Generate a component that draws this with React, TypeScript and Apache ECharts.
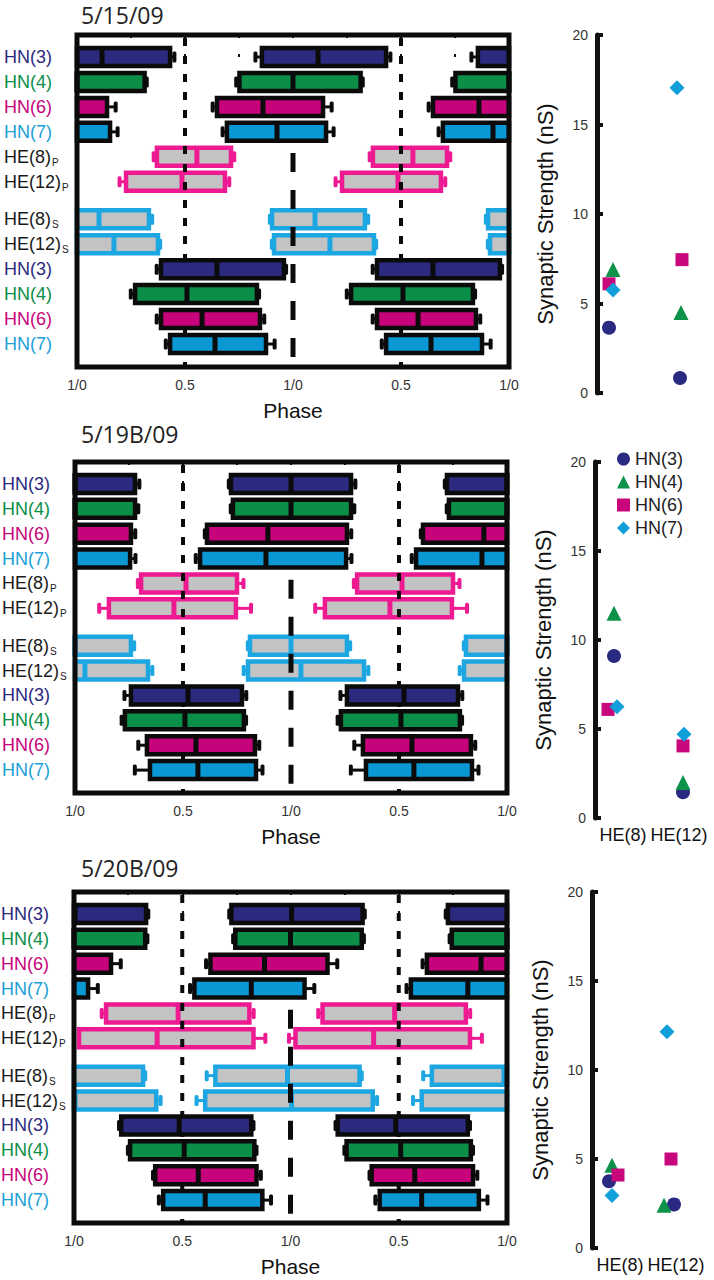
import React, { useEffect, useRef } from "react";
import * as echarts from "echarts";

const FONT = "'Liberation Sans', Arial, sans-serif";
const TITLE_FONT = "'Open Sans', 'Noto Sans', sans-serif";

// ---------- phase diagram rows ----------
const rowNames = ["HN(3)", "HN(4)", "HN(6)", "HN(7)", "HE(8)", "HE(12)", "HE(8)", "HE(12)", "HN(3)", "HN(4)", "HN(6)", "HN(7)"];
const rowSubs = ["", "", "", "", "P", "P", "S", "S", "", "", "", ""];
const rowKinds = ["HN3", "HN4", "HN6", "HN7", "HEP", "HEP", "HES", "HES", "HN3", "HN4", "HN6", "HN7"];
const rowPositions = [0, 1, 2, 3, 4, 5, 6.5, 7.5, 8.5, 9.5, 10.5, 11.5];
const heRows = [4, 5, 6, 7];
const hnRows = [0, 1, 2, 3, 8, 9, 10, 11];

const panelTitles = ["5/15/09", "5/19B/09", "5/20B/09"];

// phase values (start / end / median marker / start SD / end SD)
const p1Start = [0.856, 0.752, 0.648, 0.694, 0.370, 0.227, 0.903, 0.912, 0.389, 0.269, 0.389, 0.431];
const p1End = [1.431, 1.313, 1.139, 1.153, 0.713, 0.685, 1.333, 1.375, 0.958, 0.833, 0.847, 0.875];
const p1Mid = [1.116, 1.0, 0.861, 0.926, 0.555, 0.486, 1.102, 1.171, 0.648, 0.509, 0.579, 0.639];
const p1SdStart = [0.03, 0.015, 0.02, 0.02, 0.015, 0.03, 0.01, 0.01, 0.02, 0.02, 0.02, 0.02];
const p1SdEnd = [0.02, 0.01, 0.04, 0.035, 0.015, 0.02, 0.015, 0.01, 0.01, 0.01, 0.02, 0.04];

const p2Start = [0.722, 0.731, 0.611, 0.579, 0.306, 0.157, 0.810, 0.801, 0.259, 0.231, 0.333, 0.347];
const p2End = [1.278, 1.278, 1.259, 1.255, 0.750, 0.745, 1.259, 1.338, 0.773, 0.782, 0.833, 0.838];
const p2Mid = [1.0, 1.0, 0.893, 0.884, 0.514, 0.458, 1.0, 1.046, 0.523, 0.509, 0.560, 0.569];
const p2SdStart = [0.01, 0.01, 0.01, 0.02, 0.015, 0.045, 0.01, 0.02, 0.03, 0.015, 0.04, 0.07];
const p2SdEnd = [0.02, 0.015, 0.02, 0.025, 0.03, 0.07, 0.015, 0.02, 0.02, 0.01, 0.02, 0.03];

const p3Start = [0.727, 0.745, 0.630, 0.556, 0.148, 0.023, 0.653, 0.606, 0.218, 0.259, 0.375, 0.412];
const p3End = [1.333, 1.329, 1.171, 1.065, 0.810, 0.829, 1.319, 1.380, 0.819, 0.833, 0.843, 0.870];
const p3Mid = [1.005, 1.0, 0.880, 0.819, 0.481, 0.384, 0.986, 1.005, 0.486, 0.509, 0.574, 0.606];
const p3SdStart = [0.01, 0.01, 0.02, 0.02, 0.02, 0.03, 0.04, 0.04, 0.01, 0.01, 0.01, 0.02];
const p3SdEnd = [0.01, 0.01, 0.045, 0.045, 0.02, 0.055, 0.01, 0.02, 0.01, 0.01, 0.02, 0.04];

const phaseTickValues = [0, 0.5, 1, 1.5, 2];
const phaseTickTexts = ["1/0", "0.5", "1/0", "0.5", "1/0"];
const guidePhases = [0.5, 1.0, 1.5];
const guideKinds = ["short", "long", "short"];
const PHASE_Y_MIN = -0.88;
const PHASE_Y_MAX = 12.42;
const guideStarts = [PHASE_Y_MIN, 3.85, PHASE_Y_MIN];

// ---------- synaptic strength ----------
const synapseTargets = ["HE(8)", "HE(12)"];
const hnNames = ["HN(3)", "HN(4)", "HN(6)", "HN(7)"];
const strength1 = [[3.65, 0.84], [6.9, 4.5], [6.1, 7.45], [5.75, 17.05]];
const strength2 = [[9.1, 1.45], [11.5, 2.0], [6.1, 4.05], [6.25, 4.7]];
const strength3 = [[3.75, 2.45], [4.65, 2.4], [4.1, 5.0], [2.95, 12.15]];
const strengthTicks = [0, 5, 10, 15, 20];

// ---------- styles (not data) ----------
const kindStyle: Record<string, { fill: string; stroke: string; label: string }> = {
  HN3: { fill: "#2b2a7e", stroke: "#0b0b0b", label: "#2b2a7e" },
  HN4: { fill: "#0a8e48", stroke: "#0b0b0b", label: "#0a8e48" },
  HN6: { fill: "#c6037b", stroke: "#0b0b0b", label: "#c6037b" },
  HN7: { fill: "#0a98d4", stroke: "#0b0b0b", label: "#1a9fd8" },
  HEP: { fill: "#c3c3c3", stroke: "#ee1a92", label: "#1a1a1a" },
  HES: { fill: "#c3c3c3", stroke: "#1ca7e2", label: "#1a1a1a" },
};
const hnSymbols = ["circle", "triangle", "rect", "diamond"];
const hnSymbolSizes = [14, 15, 13, 15];
const hnColors = ["#2a2a82", "#0c9249", "#c8077d", "#109fd9"];
// horizontal jitter of markers (px) per panel, per HN, per target
const jitter = [
  [[-16, -1], [-12, 0], [-16, 1], [-12, -4]],
  [[-9, 4], [-9, 4], [-15, 4], [-6, 5]],
  [[-11, -2], [-8, -12], [-2, -5], [-8, -9]],
];

const phaseGrids = [
  { left: 77, top: 35, width: 432, height: 332 },
  { left: 75, top: 462, width: 432, height: 331 },
  { left: 74, top: 892, width: 433, height: 331 },
];
const scatterGrids = [
  { left: 597, top: 35, width: 112, height: 358 },
  { left: 595, top: 462, width: 112, height: 356 },
  { left: 592, top: 892, width: 112, height: 356 },
];
const titleTops = [3, 422, 856];
const titleLefts = [81, 81, 81];

const panels = [
  { start: p1Start, end: p1End, mid: p1Mid, sdS: p1SdStart, sdE: p1SdEnd, strength: strength1 },
  { start: p2Start, end: p2End, mid: p2Mid, sdS: p2SdStart, sdE: p2SdEnd, strength: strength2 },
  { start: p3Start, end: p3End, mid: p3Mid, sdS: p3SdStart, sdE: p3SdEnd, strength: strength3 },
];

function makeBarRender(p: number) {
  const d = panels[p];
  return (params: any, api: any) => {
    const i = api.value(0);
    const cs = params.coordSys;
    const gx = cs.x;
    const gr = cs.x + cs.width;
    const pos = rowPositions[i];
    const st = kindStyle[rowKinds[i]];
    const cy = api.coord([0, pos])[1];
    const children: any[] = [];
    for (const off of [-1, 0, 1]) {
      const x1 = api.coord([d.start[i] + off, pos])[0];
      const x2 = api.coord([d.end[i] + off, pos])[0];
      const xm = api.coord([d.mid[i] + off, pos])[0];
      const w1 = api.coord([d.start[i] + off - d.sdS[i], pos])[0];
      const w2 = api.coord([d.end[i] + off + d.sdE[i], pos])[0];
      if (w2 < gx || w1 > gr) continue;
      if (w1 >= gx && w1 <= gr - 2) {
        children.push({ type: "line", shape: { x1: w1, y1: cy, x2: Math.min(x1, gr), y2: cy }, style: { stroke: st.stroke, lineWidth: 3 } });
        children.push({ type: "rect", shape: { x: w1 - 2, y: cy - 5.5, width: 4, height: 11, r: 1.5 }, style: { fill: st.stroke } });
      }
      if (w2 <= gr && w2 >= gx + 2) {
        children.push({ type: "line", shape: { x1: Math.max(x2, gx), y1: cy, x2: w2, y2: cy }, style: { stroke: st.stroke, lineWidth: 3 } });
        children.push({ type: "rect", shape: { x: w2 - 2, y: cy - 5.5, width: 4, height: 11, r: 1.5 }, style: { fill: st.stroke } });
      }
      const rx1 = Math.max(x1, gx);
      const rx2 = Math.min(x2, gr);
      if (rx2 > rx1) {
        children.push({
          type: "rect",
          shape: { x: rx1, y: cy - 9, width: rx2 - rx1, height: 18 },
          style: { fill: st.fill, stroke: st.stroke, lineWidth: 4.5 },
        });
      }
      if (xm >= gx && xm <= gr) {
        children.push({ type: "rect", shape: { x: xm - 2.5, y: cy - 10.5, width: 5, height: 21 }, style: { fill: st.stroke } });
      }
    }
    return { type: "group", children };
  };
}

function guideRender(params: any, api: any) {
  const cs = params.coordSys;
  const kind = guideKinds[params.dataIndex];
  const [x, y0] = api.coord([api.value(0), api.value(1)]);
  return {
    type: "line",
    shape: { x1: x, y1: Math.max(y0, cs.y + 3), x2: x, y2: cs.y + cs.height },
    style: { stroke: "#0b0b0b", lineWidth: kind === "long" ? 5 : 4, lineDash: kind === "long" ? [19, 18] : [8, 10] },
  };
}

function frameRender(params: any) {
  const cs = params.coordSys;
  return {
    type: "rect",
    shape: { x: cs.x, y: cs.y, width: cs.width, height: cs.height },
    style: { fill: "none", stroke: "#0b0b0b", lineWidth: 5 },
  };
}

function labelRender(params: any, api: any) {
  const i = params.dataIndex;
  const cs = params.coordSys;
  const y = api.coord([0, rowPositions[i]])[1];
  const color = kindStyle[rowKinds[i]].label;
  const sub = rowSubs[i];
  const text = sub ? `{m|${rowNames[i]}}{s|${sub}}` : `{m|${rowNames[i]}}`;
  return {
    type: "text",
    x: cs.x - 73,
    y,
    style: {
      text,
      align: "left",
      verticalAlign: "middle",
      rich: {
        m: { fontSize: 18, fontFamily: FONT, fill: color },
        s: { fontSize: 10, fontFamily: FONT, fill: color, padding: [11, 0, 0, 1] },
      },
    },
  };
}

function buildOption() {
  const grid: any[] = [...phaseGrids, ...scatterGrids];
  const xAxis: any[] = [];
  const yAxis: any[] = [];
  const series: any[] = [];

  for (let p = 0; p < 3; p++) {
    xAxis.push({
      type: "value",
      gridIndex: p,
      min: 0,
      max: 2,
      interval: 0.25,
      position: "bottom",
      axisLine: { show: false },
      splitLine: { show: false },
      axisTick: { show: true, inside: true, length: 3, lineStyle: { color: "#111", width: 2 } },
      axisLabel: {
        show: true,
        margin: 11,
        fontSize: 14,
        color: "#333",
        fontFamily: FONT,
        showMinLabel: true,
        showMaxLabel: true,
        formatter: (v: number) => {
          const k = phaseTickValues.findIndex((t) => Math.abs(t - v) < 1e-6);
          return k >= 0 ? phaseTickTexts[k] : "";
        },
      },
      name: "Phase",
      nameLocation: "middle",
      nameGap: 33,
      nameTextStyle: { fontSize: 21, color: "#111", fontFamily: FONT },
    });
    yAxis.push({ type: "value", gridIndex: p, min: PHASE_Y_MIN, max: PHASE_Y_MAX, inverse: true, show: false });
  }
  for (let p = 0; p < 3; p++) {
    xAxis.push({
      type: "value",
      gridIndex: 3 + p,
      min: -0.5,
      max: 1.5,
      interval: 0.5,
      axisLine: { show: false, onZero: false },
      axisTick: { show: false },
      splitLine: { show: false },
      axisLabel: {
        show: p > 0,
        margin: 8,
        fontSize: 18,
        color: "#111",
        fontFamily: FONT,
        formatter: (v: number) => {
          const k = Math.round(v);
          return Math.abs(v - k) < 1e-6 && k >= 0 && k < synapseTargets.length ? synapseTargets[k] : "";
        },
      },
    });
    yAxis.push({
      type: "value",
      gridIndex: 3 + p,
      min: strengthTicks[0],
      max: strengthTicks[strengthTicks.length - 1],
      interval: strengthTicks[1] - strengthTicks[0],
      axisLine: { show: true, onZero: false, lineStyle: { color: "#111", width: 5 } },
      axisTick: { show: true, inside: true, length: 6, lineStyle: { color: "#111", width: 4 } },
      axisLabel: { fontSize: 14, color: "#333", margin: 9, fontFamily: FONT },
      splitLine: { show: false },
      name: "Synaptic Strength (nS)",
      nameLocation: "middle",
      nameGap: 41,
      nameTextStyle: { fontSize: 22, color: "#111", fontFamily: FONT },
    });
  }
  for (let p = 0; p < 3; p++) {
    xAxis.push({
      type: "value",
      gridIndex: p,
      min: 0,
      max: 2,
      interval: 0.25,
      position: "top",
      axisLine: { show: false },
      splitLine: { show: false },
      axisTick: { show: true, inside: true, length: 3, lineStyle: { color: "#111", width: 2 } },
      axisLabel: { show: false },
    });
  }

  for (let p = 0; p < 3; p++) {
    const common = { type: "custom", xAxisIndex: p, yAxisIndex: p, silent: true };
    series.push({ ...common, name: `heBars${p}`, z: 2, data: heRows.map((r) => [r]), renderItem: makeBarRender(p) });
    series.push({
      ...common,
      name: `guides${p}`,
      z: 3,
      data: guidePhases.map((ph, k) => [ph, guideStarts[k]]),
      renderItem: guideRender,
    });
    series.push({ ...common, name: `hnBars${p}`, z: 4, data: hnRows.map((r) => [r]), renderItem: makeBarRender(p) });
    series.push({ ...common, name: `frame${p}`, z: 5, data: [[0]], renderItem: frameRender });
    series.push({ ...common, name: `labels${p}`, z: 5, data: rowNames.map((_, i) => [i]), renderItem: labelRender });

    const s = panels[p].strength;
    hnNames.forEach((nm, h) => {
      series.push({
        type: "scatter",
        name: nm,
        xAxisIndex: 3 + p,
        yAxisIndex: 3 + p,
        symbol: hnSymbols[h],
        symbolSize: hnSymbolSizes[h],
        itemStyle: { color: hnColors[h], opacity: 1 },
        z: 3,
        silent: true,
        data: s[h].map((v, t) => ({ value: [t, v], symbolOffset: [jitter[p][h][t], 0] })),
      });
    });
  }

  return {
    animation: false,
    backgroundColor: "#ffffff",
    textStyle: { fontFamily: FONT },
    title: panelTitles.map((t, p) => ({
      text: t,
      left: titleLefts[p],
      top: titleTops[p],
      padding: 0,
      textStyle: { fontSize: 23, fontWeight: "normal", color: "#222", fontFamily: TITLE_FONT },
    })),
    legend: {
      show: true,
      orient: "vertical",
      left: 617,
      top: 450,
      padding: 0,
      itemWidth: 13,
      itemHeight: 13,
      itemGap: 5,
      selectedMode: false,
      data: hnNames,
      textStyle: { fontSize: 18, color: "#222", fontFamily: FONT },
    },
    grid,
    xAxis,
    yAxis,
    series,
  };
}

export default function App() {
  const ref = useRef<HTMLDivElement>(null);
  useEffect(() => {
    const chart = echarts.init(ref.current as HTMLDivElement, null, { renderer: "svg" });
    chart.setOption(buildOption() as any);
    return () => chart.dispose();
  }, []);
  return (
    <div
      ref={ref}
      style={{ position: "absolute", left: 0, top: 0, width: 714, height: 1280, background: "#fff" }}
    />
  );
}
